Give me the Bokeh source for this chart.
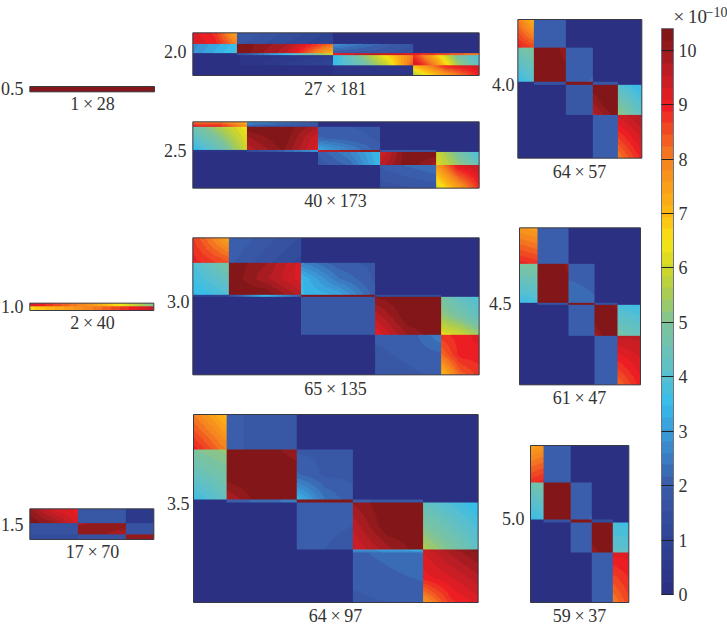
import numpy as np
from bokeh.core.properties import value
from bokeh.embed import file_html
from bokeh.models import ColorBar, FixedTicker, LinearColorMapper
from bokeh.plotting import figure
from bokeh.resources import INLINE

# Values (units of 1e-10).  A cell is a single level or a small
# grid of levels read across the block; the block is drawn smoothly shaded between
# them (Gouraud style), since the source shows a continuous field.
Z = 0.2
D = 10.4
matrix_05 = [[10.2]]
matrix_10 = [[[[9.3, 7.6, 5.0]]], [[[6.6, 8.0, 9.5]]]]
matrix_15 = [
    [[[10.0, 9.2, 9.0], [D, 10.0, 9.2]], 1.8, 0.6],
    [1.7, [[9.9, 10.2], [10.2, 9.8]], 1.7],
    [1.5, 1.6, 10.0],
]
matrix_20 = [
    [[[9.2, 8.8, 7.2], [9.3, 9.0, 8.0]], [[2.0, 1.0], [1.8, 0.8]], Z, Z],
    [[[2.7, 3.6], [2.8, 3.8]], [[D, 9.8, 8.2], [D, 9.6, 7.0]], [[2.8, 1.7], [2.0, 1.6]], Z],
    [Z, [[1.5, 3.5, 6.0]], [[9.0, 9.6, 9.2]], [[9.0, 8.0]]],
    [Z, [[0.2, 0.6], [0.2, 1.2]], [[3.4, 5.0, 6.6, 8.0], [3.6, 4.4, 5.8, 8.5]],
     [[8.8, 7.0, 4.8, 3.8], [9.6, 8.0, 5.5, 4.2]]],
    [Z, Z, 0.3, [[7.0, 9.0, 9.4], [5.6, 7.5, 9.0]]],
]
matrix_25 = [
    [[[8.0, 8.0, 7.0], [9.2, 9.0, 7.8]], [[3.0, 2.0], [2.0, 1.6]], Z, Z, Z],
    [[[4.6, 5.6, 6.5], [3.4, 4.4, 6.0]], [[D, D, 9.8], [9.9, D, 9.3], [9.6, 10.2, 9.2]],
     [[2.0, 1.9], [2.2, 1.9], [3.3, 2.0]], Z, Z],
    [0.3, [[1.2, 3.0]], [[9.5, 10.2]], 1.8, Z],
    [Z, Z, [[2.0, 2.6, 3.5], [1.8, 2.2, 3.5]], [[9.3, D, D], [9.6, D, 9.8]], [[6.0, 3.7], [6.2, 4.4]]],
    [Z, Z, Z, [[2.0, 2.4], [1.6, 1.8]], [[7.6, 9.2, 9.6], [6.0, 7.4, 8.8]]],
]
matrix_30 = [
    [[[8.7, 7.3], [9.0, 8.5]], [[2.2, 1.5], [2.0, 1.2]], Z, Z, Z],
    [[[3.9, 4.9], [3.4, 3.9]], [[D, 10.0, 9.2], [D, 9.8, 9.2], [D, D, 9.6]],
     [[2.6, 2.0, 1.9], [3.5, 2.4, 1.9], [3.5, 3.2, 2.0]], Z, Z],
    [0.9, [[1.5, 3.5, 2.0]], 10.2, 1.5, Z],
    [Z, Z, 1.9, [[10.2, D, D], [9.6, D, D], [9.1, 10.0, D]], [[4.8, 4.2, 3.9], [5.3, 4.8, 4.2], [6.3, 6.0, 5.4]]],
    [Z, Z, Z, [[2.0, 2.0, 2.6], [1.9, 2.0, 2.1], [1.8, 1.9, 2.0]], [[8.8, 9.0, 9.2], [8.2, 9.0, 9.0], [7.0, 8.3, 8.8]]],
]
matrix_35 = [
    [[[8.0, 7.0], [9.0, 8.0]], [[2.0, 1.8], [2.0, 1.8]], Z, Z, Z],
    [[[5.0, 5.3], [3.6, 4.3]], [[D, D, 10.0], [D, D, D], [9.7, D, D]],
     [[1.9, 1.9, 1.9], [2.2, 1.9, 1.9], [3.5, 2.4, 2.0]], Z, Z],
    [Z, [[2.0, 2.5]], 10.2, [[2.0, 1.8]], Z],
    [Z, Z, [[2.0, 2.0], [2.0, 1.9]], [[10.0, D, D], [9.6, D, D], [9.3, 9.9, D]],
     [[4.3, 3.4], [5.6, 4.2]]],
    [Z, Z, Z, [[3.0, 3.6], [2.3, 2.6]], [[9.5, D], [9.3, 10.2]]],
    [Z, Z, Z, [[2.1, 2.4], [1.9, 2.0]], [[9.3, 9.8, 10.2], [9.0, 9.3, 9.7], [7.6, 8.8, 9.2]]],
]
matrix_40 = [
    [[[8.0, 7.0], [9.0, 8.6]], 2.0, Z, Z, Z],
    [[[4.7, 5.0], [3.5, 4.0]], [[D, D, 10.0], [D, D, D]], [[2.0, 2.0], [2.0, 2.2]], Z, Z],
    [Z, 1.6, 10.2, 1.8, Z],
    [Z, Z, 1.9, [[D, D, D], [10.0, D, D], [9.6, 10.0, D]], [[4.0, 3.4], [5.3, 4.2]]],
    [Z, Z, Z, 2.0, [[9.4, 9.8], [8.0, 9.0]]],
]
matrix_45 = [
    [[[7.6, 7.4], [9.0, 8.8]], 2.0, Z, Z, Z],
    [[[4.9, 5.0], [3.6, 3.8]], [[D, D, 10.1], [D, D, D]], [[2.0, 2.0], [2.4, 2.2]], Z, Z],
    [Z, 1.6, 10.2, 1.7, Z],
    [Z, Z, 2.0, [[D, D, 10.1], [D, D, D], [9.8, D, D]], [[3.8, 3.6], [4.8, 4.4]]],
    [Z, Z, Z, 2.0, [[9.6, 9.6], [8.2, 9.0]]],
]
matrix_50 = [
    [[[7.4, 7.6], [8.8, 9.0]], 2.0, Z, Z, Z],
    [[[4.6, 4.8], [3.5, 3.8]], D, [[2.0, 2.0], [2.0, 2.2]], Z, Z],
    [Z, 1.7, 10.2, 1.5, Z],
    [Z, Z, 2.0, [[D, D], [10.1, D]], [[3.7, 3.6], [4.2, 4.2]]],
    [Z, Z, Z, 2.0, [[9.2, 9.2], [8.0, 8.6]]],
]
sizes = ["1 × 28", "2 × 40", "17 × 70", "27 × 181", "40 × 173", "65 × 135",
         "64 × 97", "64 × 57", "61 × 47", "59 × 37"]
names = ["0.5", "1.0", "1.5", "2.0", "2.5", "3.0", "3.5", "4.0", "4.5", "5.0"]
matrices = [matrix_05, matrix_10, matrix_15, matrix_20, matrix_25, matrix_30,
            matrix_35, matrix_40, matrix_45, matrix_50]
bar_ticks = [0, 1, 2, 3, 4, 5, 6, 7, 8, 9, 10]
bar_max = 10.4

# Layout, in page pixels: block edges, name anchor (right, middle), size label centre.
def zx(base, *e):
    return [base + v / 3 for v in e]

LAYOUT = [
    (zx(0, 88, 462), zx(20, 198, 214), (23, 88), (92, 103)),
    (zx(0, 88, 460), zx(280, 68, 79, 90), (23, 306), (92, 322)),
    (zx(0, 88, 232, 376, 460), zx(495, 40, 85, 117, 132), (23, 524), (92, 551)),
    (zx(160, 97, 231, 519, 757, 956), zx(20, 37, 73, 98, 104, 136, 165), (186, 51), (335, 88)),
    (zx(160, 97, 261, 474, 660, 828, 956), zx(20, 304, 319, 390, 395, 435, 503), (186, 150), (335, 200)),
    (zx(160, 97, 206, 422, 645, 843, 956), zx(225, 37, 112, 208, 215, 330, 448), (189, 301), (335, 388)),
    (zx(160, 99, 196, 408, 576, 786, 953), zx(405, 27, 132, 284, 291, 432, 442, 591), (189, 503), (335, 615)),
    (zx(490, 82, 129, 226, 305, 382, 454), zx(0, 57, 142, 245, 253, 345, 473), (514, 84), (579, 171)),
    (zx(490, 87, 141, 234, 312, 380, 450), zx(220, 22, 132, 247, 255, 348, 493), (511, 303), (579, 397)),
    (zx(490, 120, 160, 240, 305, 368, 415), zx(430, 45, 156, 269, 277, 366, 516), (524, 518), (579, 615)),
]

W, H = 727, 625
FONT = value("Liberation Serif")
INK = "#333333"
ANCHORS = [(0, "#2a2e80"), (1, "#2f4495"), (2, "#3a5aa8"), (2.6, "#3b82c6"), (3, "#3b9ad8"),
           (3.5, "#35bdea"), (4, "#58bfd0"), (5, "#7fc49a"), (5.5, "#a8cc55"), (6, "#cfd62a"),
           (6.5, "#f7e514"), (7, "#fdb913"), (8, "#f58220"), (8.5, "#f04e23"), (9, "#ed1c24"),
           (9.7, "#b51e24"), (10, "#981b1e"), (10.4, "#7a1416")]


def make_palette(n):
    xs = [a[0] for a in ANCHORS]
    rgb = np.array([[int(a[1][i:i + 2], 16) for i in (1, 3, 5)] for a in ANCHORS], float)
    t = (np.arange(n) + 0.5) / n * bar_max
    out = np.stack([np.interp(t, xs, rgb[:, k]) for k in range(3)], 1).round().astype(int)
    return ["#%02x%02x%02x" % tuple(c) for c in out]


def shade(cell, h, w):
    g = np.atleast_2d(np.array(cell, float))
    if g.shape[0] == 1:
        g = np.vstack([g, g])
    if g.shape[1] == 1:
        g = np.hstack([g, g])
    u = np.linspace(0, 1, w * 2 + 1)[1::2] * (g.shape[1] - 1)
    v = np.linspace(0, 1, h * 2 + 1)[1::2] * (g.shape[0] - 1)
    cols = np.stack([np.interp(u, np.arange(g.shape[1]), r) for r in g])
    return np.stack([np.interp(v, np.arange(g.shape[0]), cols[:, i]) for i in range(w)], 1)


def raster(m, xe, ye):
    SS = 2
    X = np.round((np.array(xe) - xe[0]) * SS).astype(int)
    Y = np.round((np.array(ye) - ye[0]) * SS).astype(int)
    a = np.zeros((Y[-1], X[-1]))
    for r, row in enumerate(m):
        for c, cell in enumerate(row):
            a[Y[r]:Y[r + 1], X[c]:X[c + 1]] = shade(cell, Y[r + 1] - Y[r], X[c + 1] - X[c])
    return a[::-1]


mapper = LinearColorMapper(palette=make_palette(48), low=0, high=bar_max)
p = figure(width=W, height=H, x_range=(0, W), y_range=(0, H), toolbar_location=None,
           output_backend="svg", min_border=0, margin=0)
p.axis.visible = False
p.grid.visible = False
p.outline_line_color = None

for m, (xe, ye, name_at, size_at), nm, sz in zip(matrices, LAYOUT, names, sizes):
    p.image(image=[raster(m, xe, ye)], x=xe[0], y=H - ye[-1], dw=xe[-1] - xe[0], dh=ye[-1] - ye[0],
            color_mapper=mapper)
    p.quad(left=xe[0], right=xe[-1], bottom=H - ye[-1], top=H - ye[0], fill_color=None,
           line_color="#3a3a44", line_width=1)
    p.text(x=[name_at[0]], y=[H - name_at[1]], text=[nm], text_font=FONT, text_font_size="18px",
           text_color=INK, text_align="right", text_baseline="middle")
    p.text(x=[size_at[0]], y=[H - size_at[1]], text=[sz.replace(" ", "\u2009")], text_font=FONT,
           text_font_size="18px", text_color=INK, text_align="center", text_baseline="middle")

bar = ColorBar(color_mapper=mapper, ticker=FixedTicker(ticks=bar_ticks), width=12, height=566,
               location=(661, H - 594), padding=0, margin=0, major_tick_in=12, major_tick_out=0,
               major_tick_line_color="#222222", minor_tick_line_color=None, label_standoff=5,
               major_label_text_font="Liberation Serif", major_label_text_font_size="18px",
               major_label_text_color=INK, bar_line_color="#6f7480", bar_line_width=1,
               background_fill_color=None, border_line_color=None, title=None)
p.add_layout(bar)
p.text(x=[673], y=[H - 16], text=["×\u200910"], text_font=FONT, text_font_size="19px",
       text_color=INK, text_align="left", text_baseline="middle")
p.text(x=[705], y=[H - 11], text=["−10"], text_font=FONT, text_font_size="14px",
       text_color=INK, text_align="left", text_baseline="middle")

open("out.html", "w").write(file_html(p, INLINE))
